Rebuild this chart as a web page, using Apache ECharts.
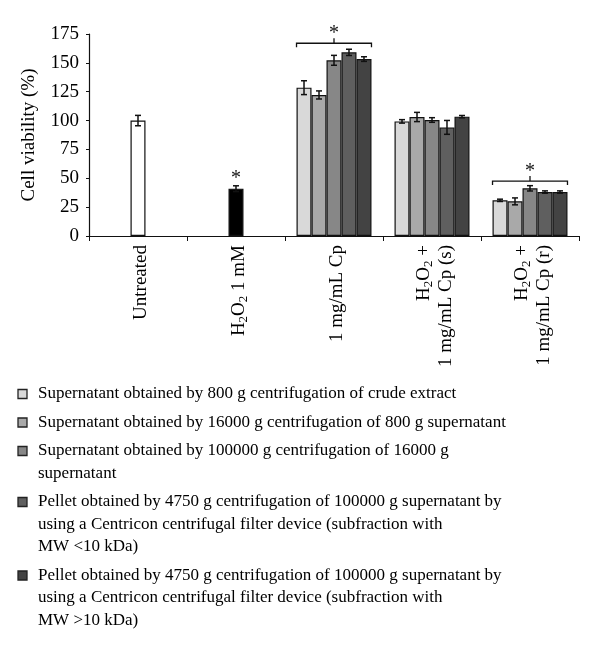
<!DOCTYPE html>
<html>
<head>
<meta charset="utf-8">
<script src="https://cdn.jsdelivr.net/npm/echarts@6/dist/echarts.min.js"></script>
<style>
html,body{margin:0;padding:0;background:#fff;}
#chart{width:600px;height:653px;}
</style>
</head>
<body>
<div id="chart"></div>
<script>
// ---- data ----
const categories = ['Untreated', 'H₂O₂ 1 mM', '1 mg/mL Cp', 'H₂O₂ +\n1 mg/mL Cp (s)', 'H₂O₂ +\n1 mg/mL Cp (r)'];
const controlValues = [100, 41, '-', '-', '-'];
const controlErrors = [4.5, 2.5, 0, 0, 0];
const controlColors = ['#ffffff', '#000000'];

const frac800 = ['-', '-', 128.5, 99.3, 30.9];
const frac800Err = [0, 0, 6, 1.5, 1];
const frac16000 = ['-', '-', 122.2, 103.1, 30.0];
const frac16000Err = [0, 0, 3.5, 4, 3];
const frac100000 = ['-', '-', 152.2, 100.5, 41.3];
const frac100000Err = [0, 0, 4.3, 2, 2.3];
const pelletLow = ['-', '-', 159.1, 94.1, 38.1];
const pelletLowErr = [0, 0, 2.7, 6, 1];
const pelletHigh = ['-', '-', 153.3, 103.4, 38.1];
const pelletHighErr = [0, 0, 2, 1, 1];

const seriesNames = [
  'Supernatant obtained by 800 g centrifugation of crude extract',
  'Supernatant obtained by 16000 g centrifugation of 800 g supernatant',
  'Supernatant obtained by 100000 g centrifugation of 16000 g\nsupernatant',
  'Pellet obtained by 4750 g centrifugation of 100000 g supernatant by\nusing a Centricon centrifugal filter device (subfraction with\nMW <10 kDa)',
  'Pellet obtained by 4750 g centrifugation of 100000 g supernatant by\nusing a Centricon centrifugal filter device (subfraction with\nMW >10 kDa)'
];
const seriesColors = ['#d9d9d9', '#a9a9a9', '#878787', '#5f5f5f', '#434343'];

const yMin = 0, yMax = 175, yInterval = 25;
const yTitle = 'Cell viability (%)';

// significance marks: [categoryIndex, yValue, hasBracket]
const significance = [[1, 50, 0], [2, 167, 1], [4, 47.6, 1]];

// ---- build ----
const FONT = 'Liberation Serif';
const BAR_FRAC = 0.153;
const fracValues = [frac800, frac16000, frac100000, pelletLow, pelletHigh];
const fracErrors = [frac800Err, frac16000Err, frac100000Err, pelletLowErr, pelletHighErr];

const errData = [];
controlValues.forEach((v, c) => { if (v !== '-') errData.push([c, v, controlErrors[c], 0]); });
fracValues.forEach((arr, s) => arr.forEach((v, c) => {
  if (v !== '-') errData.push([c, v, fracErrors[s][c], s - 2]);
}));

function toRich(str) {
  return str.split('\n').map(line =>
    line.split('₂').map(p => p ? '{n|' + p + '}' : '').join('{s|2}')
  ).join('\n');
}

const series = [];
series.push({
  type: 'bar', xAxisIndex: 1, name: 'control',
  barWidth: (BAR_FRAC * 100) + '%',
  data: controlValues.map((v, i) => v === '-' ? '-' : { value: v, itemStyle: { color: controlColors[i] } }),
  itemStyle: { borderColor: '#111', borderWidth: 1.2 },
  animation: false
});
fracValues.forEach((arr, s) => {
  series.push({
    type: 'bar', xAxisIndex: 0, name: seriesNames[s],
    barWidth: (BAR_FRAC * 100) + '%', barGap: '0%',
    data: arr,
    itemStyle: { color: seriesColors[s], borderColor: '#111', borderWidth: 1.2 },
    animation: false
  });
});
series.push({
  type: 'custom', xAxisIndex: 0, z: 5, animation: false,
  data: errData,
  renderItem: function (params, api) {
    const c = api.value(0), v = api.value(1), e = api.value(2), k = api.value(3);
    const band = api.size([1, 0])[0];
    const bw = band * BAR_FRAC;
    const x = api.coord([c, v])[0] + k * bw;
    const yt = api.coord([c, v + e])[1], yb = api.coord([c, v - e])[1];
    const cap = 3;
    const st = { stroke: '#111', lineWidth: 1.5 };
    return { type: 'group', children: [
      { type: 'line', shape: { x1: x, y1: yt, x2: x, y2: yb }, style: st },
      { type: 'line', shape: { x1: x - cap, y1: yt, x2: x + cap, y2: yt }, style: st },
      { type: 'line', shape: { x1: x - cap, y1: yb, x2: x + cap, y2: yb }, style: st }
    ]};
  }
});
series.push({
  type: 'custom', xAxisIndex: 0, z: 6, animation: false,
  data: significance,
  renderItem: function (params, api) {
    const c = api.value(0), v = api.value(1), b = api.value(2);
    const p = api.coord([c, v]);
    const band = api.size([1, 0])[0];
    const half = band * BAR_FRAC * 2.5;
    const st = { stroke: '#111', lineWidth: 1.3, fill: null };
    const children = [];
    if (b) {
      children.push({ type: 'polyline', shape: { points: [[p[0] - half, p[1] + 4], [p[0] - half, p[1]], [p[0] + half, p[1]], [p[0] + half, p[1] + 4]] }, style: st });
      children.push({ type: 'line', shape: { x1: p[0], y1: p[1], x2: p[0], y2: p[1] - 5 }, style: st });
      children.push({ type: 'text', style: { x: p[0], y: p[1] - 9, text: '*', font: '20px ' + FONT, fill: '#111', align: 'center', verticalAlign: 'middle' } });
    } else {
      children.push({ type: 'text', style: { x: p[0], y: p[1], text: '*', font: '20px ' + FONT, fill: '#111', align: 'center', verticalAlign: 'middle' } });
    }
    return { type: 'group', children };
  }
});

// legend as graphic elements
const legendChildren = [];
let ly = 394;
const LH = 22.5;
seriesNames.forEach((name, i) => {
  const n = name.split('\n').length;
  legendChildren.push({ type: 'rect', shape: { x: 18, y: ly - 4.5, width: 9, height: 9 }, style: { fill: seriesColors[i], stroke: '#222', lineWidth: 1.3 } });
  legendChildren.push({ type: 'text', x: 38, y: ly - LH / 2, style: { text: name, font: '17px ' + FONT, lineHeight: LH, fill: '#000', verticalAlign: 'top' } });
  ly += n * LH + 6;
});

const axisCommon = {
  type: 'category', data: categories,
  axisLine: { lineStyle: { color: '#111', width: 1.2 } },
  axisTick: { show: true, length: 5, lineStyle: { color: '#111' } },
  axisLabel: {
    rotate: 90, margin: 9, color: '#000',
    padding: [6, 0, 0, 0],
    formatter: v => toRich(v),
    rich: {
      n: { fontFamily: FONT, fontSize: 19, lineHeight: 22, color: '#000' },
      s: { fontFamily: FONT, fontSize: 13, lineHeight: 22, padding: [9, 0, 0, 0], color: '#000' }
    }
  }
};

const option = {
  backgroundColor: '#fff',
  animation: false,
  grid: { left: 89, right: 21, top: 34, bottom: 417, containLabel: false },
  xAxis: [
    axisCommon,
    { type: 'category', data: categories, show: false }
  ],
  yAxis: {
    type: 'value', min: yMin, max: yMax, interval: yInterval,
    name: yTitle, nameLocation: 'middle', nameGap: 50, nameRotate: 90,
    nameTextStyle: { fontFamily: FONT, fontSize: 19, color: '#000' },
    axisLine: { show: true, lineStyle: { color: '#111', width: 1.2 } },
    axisTick: { show: true, length: 3, lineStyle: { color: '#111' } },
    splitLine: { show: false },
    axisLabel: { fontFamily: FONT, fontSize: 19, color: '#000', margin: 10 }
  },
  series: series,
  graphic: legendChildren
};

const chart = echarts.init(document.getElementById('chart'), null, { renderer: 'canvas' });
chart.setOption(option);
</script>
</body>
</html>
